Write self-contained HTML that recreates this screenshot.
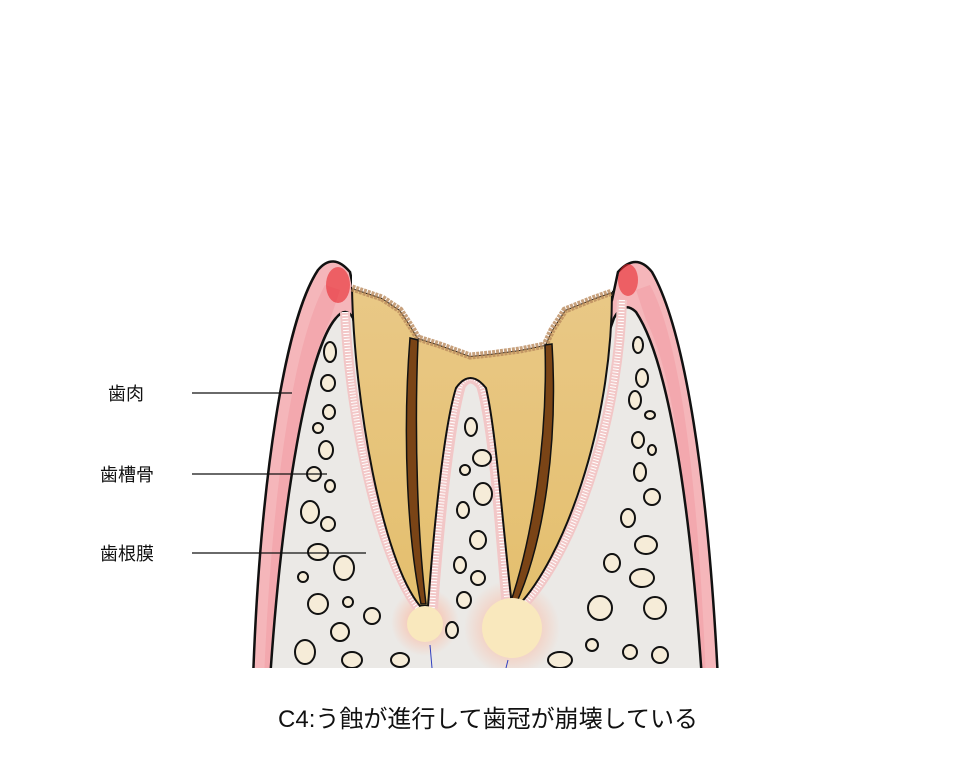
<!DOCTYPE html>
<html><head><meta charset="utf-8"><style>
html,body{margin:0;padding:0;background:#fff;width:973px;height:768px;overflow:hidden}
svg{position:absolute;left:0;top:0}
text{font-family:"Liberation Sans","Noto Sans CJK JP",sans-serif;fill:#111}
</style></head><body>
<svg width="973" height="768" viewBox="0 0 973 768">
<defs>
<radialGradient id="glow"><stop offset="0.4" stop-color="#f6c9b8"/><stop offset="1" stop-color="#f6c9b8" stop-opacity="0"/></radialGradient>
<linearGradient id="tooth" x1="0" y1="0" x2="0" y2="1"><stop offset="0" stop-color="#e9c886"/><stop offset="1" stop-color="#e4bf6e"/></linearGradient>
<clipPath id="cut"><rect x="0" y="0" width="973" height="668"/></clipPath>
</defs>
<g clip-path="url(#cut)">
<!-- gum -->
<path d="M253,680 C260,480 285,320 318,270 Q333,252 350,272 L356,300 L612,300 L618,272 Q636,252 652,272 C685,330 708,480 718,680 Z" fill="#f5b6ba" stroke="#111" stroke-width="2.5"/>
<path d="M264,680 C272,480 295,340 325,285 L340,290 L330,320 C300,380 285,500 278,680Z" fill="#f29aa2" opacity="0.5"/>
<path d="M706,680 C698,480 680,340 650,285 L636,290 L646,320 C676,380 690,500 694,680Z" fill="#f29aa2" opacity="0.5"/>
<ellipse cx="338" cy="285" rx="12" ry="18" fill="#e8242c" opacity="0.6"/>
<ellipse cx="628" cy="280" rx="10" ry="16" fill="#e8242c" opacity="0.6"/>
<!-- bone -->
<path d="M270,680 C282,500 308,350 336,318 Q346,306 353,318 L420,608 L512,608 L614,318 Q624,300 636,312 C668,360 690,500 702,680 Z" fill="#ebe9e6" stroke="#111" stroke-width="2.5"/>
<!-- septum -->
<path d="M420,680 L430,608 C440,500 450,420 460,385 Q470,370 482,385 C495,430 500,520 510,608 L520,680Z" fill="#ebe9e6"/>
<!-- glow -->
<circle cx="425" cy="622" r="34" fill="url(#glow)"/>
<circle cx="512" cy="628" r="48" fill="url(#glow)"/>
<!-- PDL -->
<path d="M345,312 C350,420 380,560 420,610" fill="none" stroke="#f2c7c7" stroke-width="10"/>
<path d="M345,312 C350,420 380,560 420,610" fill="none" stroke="#fff" stroke-width="6" stroke-dasharray="1 2"/>
<path d="M622,300 C618,430 570,560 518,610" fill="none" stroke="#f2c7c7" stroke-width="10"/>
<path d="M622,300 C618,430 570,560 518,610" fill="none" stroke="#fff" stroke-width="6" stroke-dasharray="1 2"/>
<path d="M432,608 C440,500 450,420 460,385 Q470,370 482,385 C495,430 500,520 508,608" fill="none" stroke="#f2c7c7" stroke-width="12"/>
<path d="M432,608 C440,500 450,420 460,385 Q470,370 482,385 C495,430 500,520 508,608" fill="none" stroke="#fff" stroke-width="6" stroke-dasharray="1 2"/>
<!-- tooth -->
<path d="M352,288 C354,400 382,560 420,606 L428,606 C436,500 446,420 456,388 Q470,368 486,388 C496,430 502,520 512,606 L518,606 C562,560 612,430 612,292 L595,298 L565,310 L552,330 L545,345 L520,350 L490,354 L470,356 L440,345 L418,338 L410,325 L400,310 L382,298 Z" fill="url(#tooth)" stroke="#111" stroke-width="2"/>
<!-- white above decay -->
<path d="M352,288 L382,298 L400,310 L410,325 L418,338 L440,345 L470,356 L490,354 L520,350 L545,345 L552,330 L565,310 L595,298 L612,292 L612,240 L352,240 Z" fill="#fff"/>
<path d="M352,288 L382,298 L400,310 L410,325 L418,338 L440,345 L470,356 L490,354 L520,350 L545,345 L552,330 L565,310 L595,298 L612,292" fill="none" stroke="#b98a5c" stroke-width="7" opacity="0.8" stroke-dasharray="3 1"/>
<!-- pulp -->
<path d="M410,338 L418,340 C414,440 418,540 426,604 L421,604 C408,540 402,440 410,338Z" fill="#7a4416" stroke="#111" stroke-width="1.5"/>
<path d="M545,345 L552,344 C558,440 545,540 516,604 L510,604 C532,540 548,440 545,345Z" fill="#7a4416" stroke="#111" stroke-width="1.5"/>
<!-- abscess -->
<circle cx="425" cy="624" r="18" fill="#f9e8bd"/>
<circle cx="512" cy="628" r="30" fill="#f9e8bd"/>
<path d="M430,645 L432,668 M508,660 L506,668" stroke="#3040c0" stroke-width="1"/>
<!-- holes -->
<g fill="#f6ecd8" stroke="#111" stroke-width="2">
<ellipse cx="330" cy="352" rx="6" ry="10"/><ellipse cx="328" cy="383" rx="7" ry="8"/><ellipse cx="329" cy="412" rx="6" ry="7"/>
<ellipse cx="318" cy="428" rx="5" ry="5"/><ellipse cx="326" cy="450" rx="7" ry="9"/><ellipse cx="314" cy="474" rx="7" ry="7"/>
<ellipse cx="330" cy="486" rx="5" ry="6"/><ellipse cx="310" cy="512" rx="9" ry="11"/><ellipse cx="328" cy="524" rx="7" ry="7"/>
<ellipse cx="318" cy="552" rx="10" ry="8"/><ellipse cx="344" cy="568" rx="10" ry="12"/><ellipse cx="303" cy="577" rx="5" ry="5"/>
<ellipse cx="318" cy="604" rx="10" ry="10"/><ellipse cx="348" cy="602" rx="5" ry="5"/><ellipse cx="372" cy="616" rx="8" ry="8"/>
<ellipse cx="340" cy="632" rx="9" ry="9"/><ellipse cx="305" cy="652" rx="10" ry="12"/><ellipse cx="352" cy="660" rx="10" ry="8"/><ellipse cx="400" cy="660" rx="9" ry="7"/>
<ellipse cx="471" cy="427" rx="6" ry="9"/><ellipse cx="482" cy="458" rx="9" ry="8"/><ellipse cx="465" cy="470" rx="5" ry="5"/>
<ellipse cx="483" cy="494" rx="9" ry="11"/><ellipse cx="463" cy="510" rx="6" ry="8"/><ellipse cx="478" cy="540" rx="8" ry="9"/>
<ellipse cx="460" cy="565" rx="6" ry="8"/><ellipse cx="478" cy="578" rx="7" ry="7"/><ellipse cx="464" cy="600" rx="7" ry="8"/><ellipse cx="452" cy="630" rx="6" ry="8"/>
<ellipse cx="638" cy="345" rx="5" ry="8"/><ellipse cx="642" cy="378" rx="6" ry="9"/><ellipse cx="635" cy="400" rx="6" ry="9"/>
<ellipse cx="650" cy="415" rx="5" ry="4"/><ellipse cx="638" cy="440" rx="6" ry="8"/><ellipse cx="652" cy="450" rx="4" ry="5"/>
<ellipse cx="640" cy="472" rx="6" ry="9"/><ellipse cx="652" cy="497" rx="8" ry="8"/><ellipse cx="628" cy="518" rx="7" ry="9"/>
<ellipse cx="646" cy="545" rx="11" ry="9"/><ellipse cx="612" cy="563" rx="8" ry="9"/><ellipse cx="642" cy="578" rx="12" ry="9"/>
<ellipse cx="600" cy="608" rx="12" ry="12"/><ellipse cx="655" cy="608" rx="11" ry="11"/><ellipse cx="592" cy="645" rx="6" ry="6"/>
<ellipse cx="630" cy="652" rx="7" ry="7"/><ellipse cx="660" cy="655" rx="8" ry="8"/><ellipse cx="560" cy="660" rx="12" ry="8"/>
</g>
</g>
<!-- labels -->
<g stroke="#111" stroke-width="1.2">
<line x1="192" y1="393" x2="292" y2="393"/>
<line x1="192" y1="474" x2="327" y2="474"/>
<line x1="192" y1="553" x2="366" y2="553"/>
</g>
<text x="108" y="400" font-size="18">歯肉</text>
<text x="100" y="481" font-size="18">歯槽骨</text>
<text x="100" y="560" font-size="18">歯根膜</text>
<text x="488" y="727" font-size="24" text-anchor="middle">C4:う蝕が進行して歯冠が崩壊している</text>
</svg>
</body></html>
